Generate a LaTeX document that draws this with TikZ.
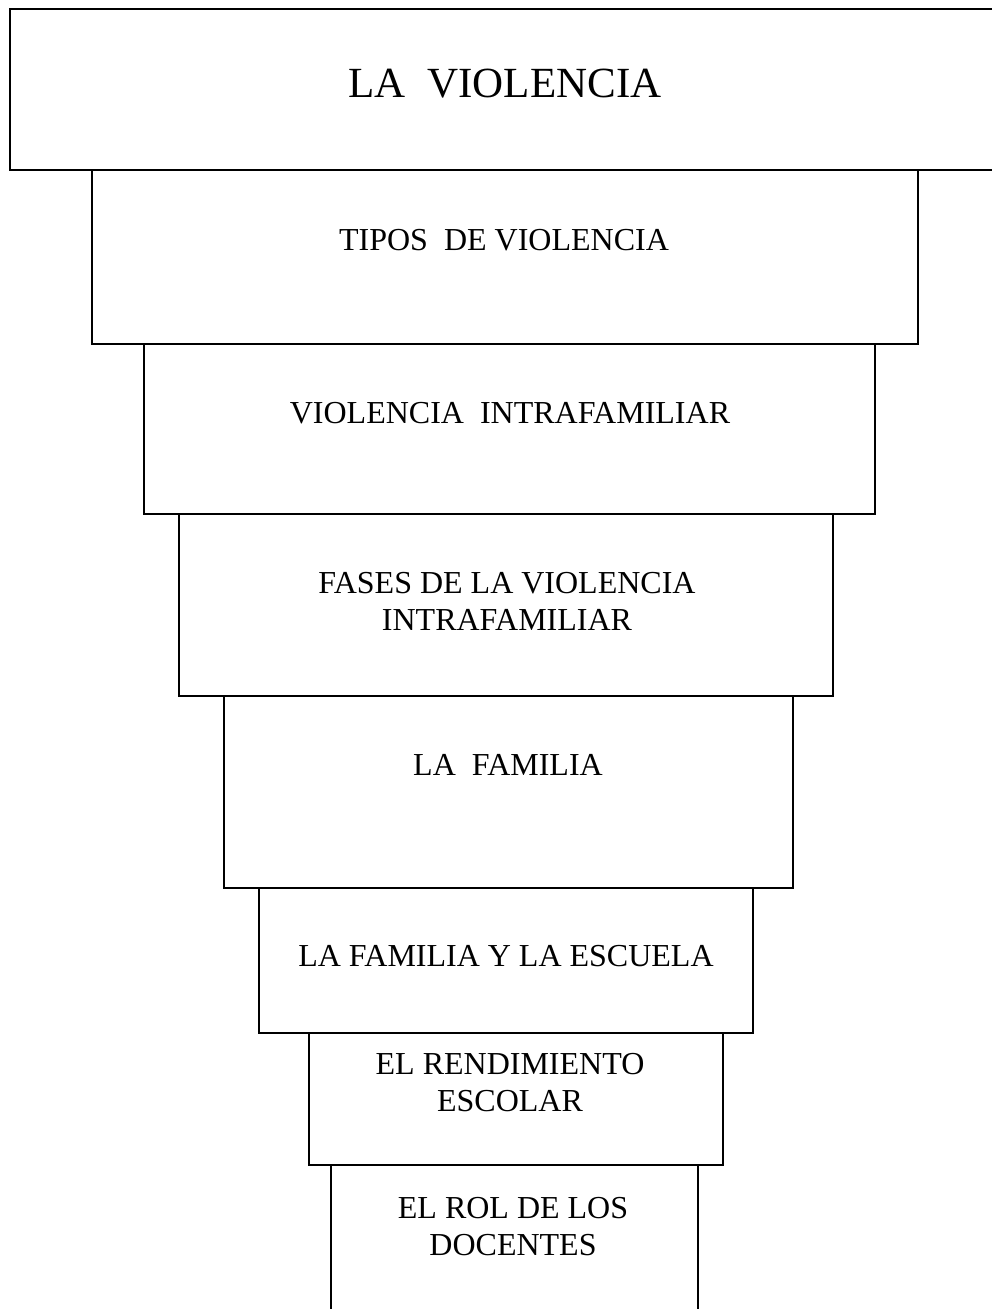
\documentclass[tikz,border=0pt]{standalone}
\usepackage{fontspec}
\setmainfont{Liberation Serif}
\begin{document}
\begin{tikzpicture}[x=1pt,y=-1pt,
  boxline/.style={draw=black,line width=1.7pt},
  lbl/.style={inner sep=0pt,align=center,font=\fontsize{32}{37}\selectfont},
  biglbl/.style={inner sep=0pt,font=\fontsize{43}{50}\selectfont}]
\useasboundingbox (0,0) rectangle (992,1309);
\clip (0,0) rectangle (992,1309);
% boxes
\draw[boxline] (10,9) rectangle (1010,170);
\draw[boxline] (92,170) rectangle (918,344);
\draw[boxline] (144,344) rectangle (875,514);
\draw[boxline] (179,514) rectangle (833,696);
\draw[boxline] (224,696) rectangle (793,888);
\draw[boxline] (259,888) rectangle (753,1033);
\draw[boxline] (309,1033) rectangle (723,1165);
\draw[boxline] (331,1165) rectangle (698,1330);
% labels
\node[biglbl,anchor=base] (t1) at (505,97) {LA\ \ VIOLENCIA};
\node[lbl,anchor=base] (t2) at (504,250) {TIPOS\ \ DE VIOLENCIA};
\node[lbl,anchor=base] (t3) at (510,423) {VIOLENCIA\ \ INTRAFAMILIAR};
\node[lbl] (t4) at (507,601) {FASES DE LA VIOLENCIA\\INTRAFAMILIAR};
\node[lbl] (t5) at (508,765) {LA\ \ FAMILIA};
\node[lbl,anchor=base] (t6) at (506,966) {LA FAMILIA Y LA ESCUELA};
\node[lbl] (t7) at (510,1083) {EL RENDIMIENTO\\ESCOLAR};
\node[lbl] (t8) at (513,1227) {EL ROL DE LOS\\DOCENTES};
\end{tikzpicture}
\end{document}
